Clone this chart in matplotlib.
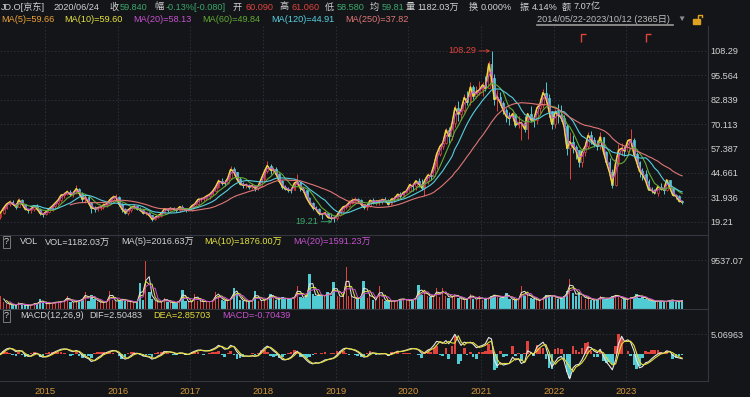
import numpy as np
import pandas as pd
import matplotlib
matplotlib.use('Agg')
import matplotlib.pyplot as plt
import matplotlib.dates as mdates
from matplotlib.path import Path
from matplotlib.lines import Line2D
from matplotlib.patches import Rectangle

plt.rcParams['font.family'] = ['Liberation Sans', 'Noto Sans CJK SC', 'DejaVu Sans']

# ---------------- data (semi-monthly samples) ----------------
first_open = 21.75
closes = [
    # 2014
    23.8, 26.5, 28.4, 29.5, 28.6, 27.0, 30.5, 28.5, 26.0, 25.2, 25.8, 27.5, 26.0, 23.5, 23.1,
    # 2015
    24.5, 25.9, 27.5, 29.0, 30.5, 33.0, 33.5, 34.9, 33.5, 34.0, 36.5, 34.0, 31.0, 32.0, 29.0, 26.5, 26.0, 26.5, 26.8, 28.0, 28.5, 30.5, 32.0, 32.3,
    # 2016
    28.5, 26.0, 24.0, 25.3, 26.5, 27.2, 26.0, 25.5, 23.8, 24.0, 22.5, 20.5, 21.5, 22.3, 23.5, 25.8, 25.5, 26.2, 25.8, 25.2, 27.0, 26.3, 25.2, 25.4,
    # 2017
    27.5, 28.4, 30.8, 31.0, 31.5, 32.5, 33.5, 35.0, 37.5, 40.5, 39.5, 39.2, 42.0, 46.5, 45.0, 41.5, 39.0, 38.2, 38.5, 37.5, 38.0, 36.8, 37.9, 41.4,
    # 2018
    45.5, 48.5, 46.0, 46.5, 44.0, 40.5, 37.5, 36.5, 35.8, 35.5, 39.5, 40.0, 36.5, 35.8, 31.5, 29.0, 26.5, 26.0, 23.5, 23.0, 23.8, 21.5, 21.0, 20.9,
    # 2019
    22.5, 24.9, 27.0, 27.4, 29.0, 30.2, 30.8, 30.3, 28.5, 26.7, 27.5, 30.3, 29.5, 29.9, 30.0, 30.6, 30.5, 28.2, 31.0, 31.1, 33.5, 32.6, 34.5, 35.2,
    # 2020
    38.5, 37.7, 40.5, 38.9, 37.0, 40.5, 43.5, 43.1, 48.5, 54.4, 58.5, 60.2, 67.0, 63.8, 70.5, 78.6, 75.5, 77.6, 84.0, 81.5, 89.5, 84.7, 87.0, 87.9,
    # 2021
    90.5, 88.7, 101.5, 94.1, 83.0, 84.3, 81.0, 77.3, 74.0, 73.1, 75.5, 69.8, 70.5, 70.9, 67.5, 75.5, 72.5, 72.2, 78.5, 80.0, 86.5, 84.0, 77.0, 70.1,
    # 2022
    76.5, 74.9, 73.5, 68.9, 57.5, 61.0, 58.0, 56.5, 50.5, 55.6, 58.5, 64.2, 62.0, 59.7, 58.5, 63.4, 55.5, 50.3, 45.0, 38.5, 50.0, 56.4, 57.5, 56.1,
    # 2023
    61.5, 62.0, 54.5, 50.2, 45.5, 43.9, 40.5, 36.0, 35.5, 34.2, 37.5, 36.5, 35.8, 41.0, 36.8, 33.1, 32.6, 30.0, 29.5,
]
highs = [
    24.5, 27.0, 29.0, 30.5, 30.5, 29.0, 31.5, 31.0, 28.5, 26.5, 26.5, 28.0, 28.5, 26.5, 24.0,
    25.0, 26.8, 28.0, 29.5, 31.5, 33.5, 34.5, 36.0, 35.5, 35.0, 38.4, 37.0, 34.5, 33.0, 32.5, 29.5, 27.5, 27.5, 28.0, 29.0, 30.0, 31.0, 33.0, 33.5,
    32.5, 29.0, 26.5, 25.5, 27.5, 28.5, 27.5, 27.0, 26.0, 24.5, 24.5, 22.5, 22.0, 23.0, 24.0, 26.5, 26.5, 27.0, 27.0, 26.5, 27.5, 28.0, 26.5, 26.5,
    28.0, 29.5, 31.5, 32.0, 32.0, 33.0, 34.0, 35.5, 38.0, 41.5, 42.0, 41.0, 42.5, 48.5, 47.5, 45.0, 42.5, 40.0, 39.5, 39.0, 39.5, 38.5, 38.5, 42.0,
    46.5, 50.7, 49.5, 48.0, 47.5, 44.5, 41.0, 38.5, 37.5, 37.0, 40.5, 44.0, 40.0, 37.5, 36.0, 32.0, 29.5, 27.5, 26.5, 24.0, 25.0, 24.0, 23.5, 21.5,
    23.5, 25.5, 27.5, 28.5, 30.5, 31.5, 32.0, 31.5, 31.0, 28.5, 28.0, 30.8, 31.5, 30.5, 31.0, 31.5, 32.0, 31.0, 31.5, 32.5, 34.0, 34.5, 35.0, 36.0,
    39.5, 39.0, 41.0, 42.0, 41.5, 41.0, 44.5, 45.0, 49.5, 55.0, 60.0, 62.0, 68.0, 68.5, 72.0, 80.0, 82.0, 80.0, 86.0, 87.5, 92.0, 90.5, 90.0, 92.5,
    92.0, 95.0, 103.0, 108.29, 96.0, 88.0, 87.0, 82.0, 78.5, 76.5, 77.5, 76.0, 74.5, 72.0, 74.5, 76.0, 79.5, 74.5, 80.0, 84.0, 88.5, 92.0, 86.0, 76.5,
    78.0, 80.5, 80.0, 75.0, 70.0, 66.0, 64.5, 59.0, 56.5, 56.5, 60.5, 66.0, 66.5, 63.5, 62.0, 66.0, 63.0, 56.0, 52.5, 46.5, 52.5, 59.5, 60.5, 58.5,
    62.5, 67.5, 63.0, 55.5, 51.0, 47.0, 46.0, 41.5, 37.5, 36.5, 38.5, 39.5, 37.5, 41.5, 41.0, 37.0, 33.5, 33.0, 30.5,
]
lows = [
    20.5, 23.0, 26.0, 27.5, 28.0, 26.0, 27.0, 28.0, 25.5, 24.0, 23.5, 25.0, 25.5, 22.5, 21.8,
    22.5, 23.5, 25.0, 26.5, 28.0, 29.5, 31.5, 33.0, 32.5, 32.0, 33.5, 33.0, 29.5, 29.0, 28.0, 24.0, 24.5, 25.0, 25.5, 26.0, 27.0, 28.0, 29.5, 31.0,
    27.5, 24.5, 23.0, 22.5, 24.5, 26.0, 25.5, 25.0, 23.0, 22.5, 22.0, 19.5, 20.0, 21.0, 21.5, 23.5, 24.5, 25.0, 25.0, 24.5, 24.5, 25.5, 24.5, 24.8,
    25.0, 27.0, 28.0, 29.5, 30.0, 30.5, 31.0, 33.0, 34.5, 37.0, 38.5, 38.0, 39.0, 42.0, 43.5, 40.5, 38.5, 37.0, 37.0, 36.5, 36.5, 35.0, 35.5, 37.5,
    40.5, 44.5, 44.0, 44.5, 43.5, 40.0, 36.5, 36.0, 34.5, 34.0, 35.5, 38.5, 35.0, 34.5, 30.5, 28.5, 25.5, 25.0, 22.5, 20.5, 22.5, 21.0, 20.0, 19.21,
    20.0, 22.0, 24.5, 26.0, 27.0, 28.5, 29.5, 29.5, 27.5, 26.0, 25.5, 27.0, 28.5, 28.0, 28.0, 28.5, 29.5, 28.0, 28.0, 29.5, 31.0, 31.5, 32.0, 34.0,
    34.5, 35.0, 36.0, 37.5, 35.5, 32.5, 39.0, 41.0, 42.5, 46.5, 53.5, 57.0, 60.0, 60.5, 62.0, 68.5, 72.0, 72.5, 76.5, 80.0, 80.0, 83.0, 83.5, 85.5,
    85.0, 87.5, 89.0, 91.0, 80.0, 77.0, 80.0, 75.5, 71.0, 69.5, 72.0, 68.5, 68.0, 62.0, 66.0, 62.5, 71.0, 68.5, 70.0, 76.0, 78.5, 83.5, 74.0, 67.5,
    68.0, 70.5, 72.0, 66.0, 54.0, 41.6, 55.0, 52.0, 47.5, 48.0, 53.5, 57.0, 59.5, 58.0, 56.5, 57.0, 53.5, 49.5, 44.5, 36.9, 38.0, 48.5, 54.0, 53.5,
    54.5, 58.5, 53.0, 47.5, 42.5, 41.0, 39.5, 35.5, 34.0, 33.5, 32.5, 35.5, 33.5, 35.0, 36.0, 32.5, 31.0, 29.5, 28.5,
]
volumes = [  # 万 shares
    2500, 1400, 1000, 900, 800, 700, 1300, 800, 700, 700, 800, 1200, 900, 2000, 1100,
    1000, 1100, 1200, 1400, 1300, 1500, 1600, 2600, 1300, 1400, 1500, 1700, 2000, 3300, 1500, 2800, 2000, 1400, 1300, 1300, 1600, 3600, 1700, 1400,
    1800, 2000, 1600, 1500, 1400, 1300, 1300, 5000, 1800, 9300, 3300, 2000, 1500, 1300, 1400, 2200, 1400, 1300, 1200, 1300, 1800, 3700, 1500, 1400,
    1400, 3000, 1600, 1500, 1400, 1500, 1400, 1600, 3400, 2400, 1800, 1600, 1700, 2200, 4000, 3000, 1800, 1600, 1500, 1500, 1700, 3500, 1600, 1700,
    1800, 2200, 3000, 2200, 1800, 2000, 2300, 1900, 2000, 2100, 2400, 4500, 2300, 2200, 2800, 6900, 3000, 2500, 2800, 2600, 2500, 3300, 2600, 5300,
    2600, 2400, 2500, 8200, 2600, 2300, 2000, 2000, 2600, 5500, 2200, 3000, 1800, 1700, 4500, 1900, 1600, 1500, 1600, 1500, 1800, 2000, 1900, 1700,
    1700, 1900, 2200, 4600, 2800, 3500, 2500, 2300, 2600, 4000, 2300, 4000, 2600, 2200, 2400, 3000, 2200, 1900, 1800, 2000, 3000, 2000, 1800, 2500,
    1800, 2000, 2200, 2600, 2800, 2400, 2200, 2300, 3200, 2000, 1800, 1700, 2000, 4400, 2500, 3000, 2200, 2000, 1700, 1600, 2400, 2700, 2500, 2700,
    2300, 2000, 2200, 2600, 3500, 5800, 3200, 2600, 3300, 2500, 2000, 2200, 1800, 1700, 1900, 2500, 1900, 2000, 2200, 2500, 2800, 2400, 2000, 1900,
    1900, 2400, 2200, 3000, 2200, 2500, 1900, 1700, 1600, 1500, 1500, 1600, 1400, 1500, 1800, 1700, 1400, 1500, 1700,
]
dif_values = [
    0.0, 0.8, 1.3, 1.5, 1.2, 0.6, 0.9, 0.7, -0.2, -0.6, -0.5, 0.1, 0.2, -0.5, -0.8,
    -0.6, -0.3, 0.2, 0.6, 0.9, 1.2, 1.3, 1.2, 0.8, 0.6, 0.9, 0.5, -0.4, -0.8, -1.2, -1.9, -1.6, -1.0, -0.5, 0.1, 0.4, 0.7, 0.9, 0.8,
    0.2, -0.8, -1.3, -1.0, -0.4, 0.1, 0.2, 0.0, -0.5, -0.6, -0.8, -1.3, -1.0, -0.5, -0.1, 0.6, 0.6, 0.5, 0.3, 0.0, 0.3, 0.2, -0.1, -0.1,
    0.4, 0.7, 1.0, 1.0, 0.8, 0.8, 0.9, 1.2, 1.6, 2.2, 1.8, 1.2, 1.4, 2.2, 1.8, 0.6, -0.3, -0.6, -0.5, -0.6, -0.4, -0.6, -0.3, 0.6,
    1.5, 2.0, 1.5, 0.8, 0.3, -0.6, -1.4, -1.5, -1.2, -0.8, 0.2, 0.7, -0.2, -0.7, -1.6, -2.2, -2.5, -2.2, -2.3, -2.0, -1.5, -1.4, -1.2, -1.0,
    -0.2, 0.6, 1.3, 1.5, 1.3, 1.2, 0.9, 0.5, -0.2, -0.8, -0.6, 0.2, 0.3, 0.1, 0.0, 0.1, 0.1, -0.4, 0.1, 0.3, 0.7, 0.6, 0.8, 1.0,
    1.3, 1.4, 1.3, 1.0, 0.2, 0.3, 1.0, 1.3, 2.2, 3.2, 3.0, 2.7, 3.4, 2.6, 3.8, 5.0, 3.4, 2.2, 3.0, 2.8, 3.0, 2.5, 1.6, 1.9,
    2.2, 2.6, 4.2, 3.8, -1.5, -3.0, -2.2, -2.8, -2.6, -2.4, -0.8, -1.5, -1.2, -2.4, -2.0, 0.8, 0.4, -0.2, 1.8, 2.3, 3.0, 1.8, -1.2, -3.3,
    -2.0, -1.0, -0.6, -1.8, -4.5, -6.3, -3.5, -2.8, -2.6, -1.5, 0.3, 1.8, 1.6, 0.8, 0.3, 1.2, -0.6, -2.0, -3.0, -4.0, -1.5, 2.5, 4.5, 3.2,
    3.6, 3.0, 0.8, -1.8, -3.5, -3.2, -2.2, -2.0, -1.2, -0.6, 0.0, 0.3, 0.2, 0.8, 0.6, -0.3, -0.8, -1.0, -1.2,
]
macd_hist = [
    0.3, 0.8, 0.6, 0.3, -0.3, -0.6, 0.4, -0.2, -0.8, -0.5, 0.2, 0.6, 0.2, -0.7, -0.4,
    0.3, 0.4, 0.6, 0.5, 0.4, 0.4, 0.2, -0.1, -0.4, -0.3, 0.4, -0.4, -1.0, -0.6, -0.5, -0.9, 0.2, 0.6, 0.6, 0.6, 0.4, 0.4, 0.3, -0.1,
    -0.6, -1.2, -0.8, 0.2, 0.6, 0.6, 0.2, -0.2, -0.6, -0.3, -0.3, -0.7, 0.2, 0.5, 0.5, 0.8, 0.2, -0.1, -0.2, -0.3, 0.3, -0.1, -0.3, 0.0,
    0.5, 0.4, 0.4, 0.1, -0.2, 0.0, 0.2, 0.4, 0.5, 0.7, -0.3, -0.7, 0.2, 0.8, -0.3, -1.2, -1.0, -0.4, 0.1, -0.1, 0.2, -0.2, 0.3, 0.9,
    0.9, 0.6, -0.4, -0.7, -0.6, -0.9, -0.8, -0.2, 0.3, 0.4, 1.0, 0.5, -0.8, -0.5, -0.9, -0.7, -0.3, 0.3, -0.1, 0.3, 0.5, 0.1, 0.2, 0.2,
    0.8, 0.8, 0.7, 0.2, -0.2, -0.1, -0.3, -0.4, -0.7, -0.6, 0.2, 0.8, 0.1, -0.2, -0.1, 0.1, 0.0, -0.5, 0.5, 0.2, 0.4, -0.1, 0.2, 0.2,
    0.3, 0.1, -0.1, -0.3, -1.0, 0.2, 1.0, 0.5, 1.5, 2.0, -0.3, -0.4, 1.5, -1.2, 2.0, 4.5, -2.5, -1.8, 1.5, -0.3, 0.4, -0.8, -1.3, 0.5,
    0.6, 0.8, 2.5, 1.0, -4.0, -3.5, 0.8, -0.8, -0.4, 0.0, 2.0, -0.6, 0.2, -1.8, 0.2, 3.2, 0.4, -0.6, 2.2, 1.4, 1.6, -1.2, -3.5, -3.8,
    1.2, 1.6, 1.2, -1.2, -4.5, -6.0, 2.0, 1.0, 0.5, 1.5, 2.8, 3.0, 0.8, -0.8, -0.8, 1.0, -1.8, -2.2, -2.0, -2.5, 2.0, 5.0, 4.0, 0.0,
    0.8, -0.5, -2.8, -3.8, -3.0, -1.0, 0.8, 0.5, 1.0, 1.0, 1.0, 0.6, 0.0, 0.8, 0.0, -1.2, -1.0, -0.6, -0.3,
]
dates = pd.date_range('2014-05-15', '2023-10-01', freq='SMS') + pd.Timedelta(days=7)

price_ticks = [19.21, 31.936, 44.661, 57.387, 70.113, 82.839, 95.564, 108.29]
vol_tick = 9537.07
macd_tick = 5.06963
years = list(range(2015, 2024))
event_dates = ['2022-05-20', '2023-04-11']
ma_periods = [5, 10, 20, 60, 120, 250]
days_per_sample = 10.5

# ---------------- styling ----------------
BG = '#131519'
GRID = '#2d3037'
BORDER = '#34373e'
TXT = '#d2d2d2'
RED = '#e0433b'
CYAN = '#50cbd3'
GREEN = '#3da76a'
MA_COLORS = ['#eea236', '#e6e340', '#c752cf', '#62ab33', '#57cfe0', '#df7676']
YEAR_C = '#d4963a'
FS = 6.6

W, H = 750, 397
fig = plt.figure(figsize=(7.5, 3.97), dpi=100, facecolor=BG)


def rect(x0, y0, x1, y1):
    return [x0 / W, 1 - y1 / H, (x1 - x0) / W, (y1 - y0) / H]


ax_p = fig.add_axes(rect(0, 26, 708, 235))
ax_v = fig.add_axes(rect(0, 235, 708, 309), sharex=ax_p)
ax_m = fig.add_axes(rect(0, 309, 708, 381), sharex=ax_p)

x = mdates.date2num(dates)
c = np.array(closes)
o = np.array([first_open] + closes[:-1])
hi = np.maximum(np.array(highs), np.maximum(o, c))
lo = np.minimum(np.array(lows), np.minimum(o, c))
up = c >= o
cols = np.where(up, RED, CYAN)
faces = np.where(up, BG, CYAN)

for ax in (ax_p, ax_v, ax_m):
    ax.set_facecolor(BG)
    ax.yaxis.tick_right()
    ax.tick_params(axis='both', length=0, labelsize=FS, labelcolor=TXT, pad=2)
    for s in ax.spines.values():
        s.set_color(BORDER)
        s.set_linewidth(0.8)
    ax.spines['left'].set_visible(False)
    ax.set_xticks([mdates.date2num(pd.Timestamp(f'{y}-01-01')) for y in years])
    ax.grid(True, color=GRID, linestyle=(0, (1.5, 2)), linewidth=0.7)
    ax.set_axisbelow(True)
ax_p.spines['top'].set_visible(False)
ax_p.spines['bottom'].set_visible(False)
ax_p.tick_params(labelbottom=False)
ax_v.tick_params(labelbottom=False)
ax_m.set_xticklabels([str(y) for y in years])
ax_m.tick_params(axis='x', labelcolor=YEAR_C, labelsize=6.8, pad=4)

ax_p.set_xlim(mdates.date2num(pd.Timestamp('2014-05-20')), mdates.date2num(pd.Timestamp('2024-02-15')))

# ---- price panel ----
ax_p.set_ylim(12.27, 121.3)
ax_p.set_yticks(price_ticks, labels=[f'{v:g}' for v in price_ticks])
ax_p.vlines(x, lo, hi, colors=cols, linewidth=0.7, zorder=2)
ax_p.bar(x, np.maximum(np.abs(c - o), 0.25), bottom=np.minimum(o, c), width=9,
         color=faces, edgecolor=cols, linewidth=0.5, zorder=2)
cs = pd.Series(c)
for n, col in zip(ma_periods, MA_COLORS):
    w = max(1, round(n / days_per_sample))
    ma = cs.rolling(w).mean()
    lw = 1.1 if n == 5 else (0.75 if n in (10, 20) else 0.8)
    ax_p.plot(x, ma, color=col, linewidth=lw, zorder=3)

imax = int(np.argmax(hi))
ax_p.annotate(f'{hi[imax]:.2f}', xy=(x[imax], hi[imax]), xytext=(-11, 0),
              textcoords='offset points', ha='right', va='center', color=RED, fontsize=FS,
              arrowprops=dict(arrowstyle='->', color=RED, lw=0.6, shrinkA=0, shrinkB=1,
                              mutation_scale=5))
imin = int(np.argmin(lo))
ax_p.annotate(f'{lo[imin]:.2f}', xy=(x[imin], lo[imin]), xytext=(-11, 0),
              textcoords='offset points', ha='right', va='center', color=GREEN, fontsize=FS,
              arrowprops=dict(arrowstyle='->', color=GREEN, lw=0.6, shrinkA=0, shrinkB=1,
                              mutation_scale=5))

corner = Path([(0, -1), (0, 0), (0.7, 0)], [Path.MOVETO, Path.LINETO, Path.LINETO])
for d in event_dates:
    ax_p.plot([mdates.date2num(pd.Timestamp(d))], [0.962], marker=corner, markersize=11,
              markerfacecolor='none', markeredgecolor=RED, markeredgewidth=1.0,
              transform=ax_p.get_xaxis_transform(), clip_on=False)

# ---- volume panel ----
vol = np.array(volumes, dtype=float)
ax_v.set_ylim(0, vol_tick * 74 / 49)
ax_v.set_yticks([vol_tick], labels=[f'{vol_tick:.2f}'])
ax_v.bar(x[~up], vol[~up], width=13, color=CYAN, linewidth=0, zorder=2)
ax_v.bar(x[up], vol[up], width=5, color=RED, linewidth=0, zorder=2)
vs = pd.Series(vol)
for w, col in zip([2, 3, 4], ['#e8e8e8', '#e6e340', '#c752cf']):
    ax_v.plot(x, vs.rolling(w).mean(), color=col, linewidth=0.7, zorder=3)

# ---- MACD panel ----
dif = np.array(dif_values)
hist = np.array(macd_hist)
dea = dif - hist / 2
ax_m.set_ylim(-6.84, 11.41)
ax_m.set_yticks([macd_tick], labels=[f'{macd_tick:.5f}'])
ax_m.bar(x, hist, width=13, color=np.where(hist >= 0, RED, CYAN), linewidth=0, zorder=2)
ax_m.plot(x, dif, color='#e6e6e6', linewidth=0.8, zorder=3)
ax_m.plot(x, dea, color='#e5dc3a', linewidth=0.8, zorder=3)

# ---------------- header texts ----------------
def ftext(px, py, s, color=TXT, size=FS, **kw):
    fig.text(px / W, 1 - py / H, s, color=color, fontsize=size, va='center', ha='left', **kw)

row1 = [(1, 'JD.O[京东]', TXT), (53, '2020/06/24', TXT), (109, '收', TXT), (120, '59.840', GREEN),
        (154, '幅', TXT), (166, '-0.13%[-0.080]', GREEN), (233, '开', TXT), (245, '60.090', RED),
        (279, '高', TXT), (291, '61.060', RED), (325, '低', TXT), (337, '58.580', GREEN),
        (370, '均', TXT), (382, '59.81', GREEN), (406, '量', TXT), (417, '1182.03万', TXT),
        (469, '换', TXT), (481, '0.000%', TXT), (520, '振', TXT), (532, '4.14%', TXT),
        (562, '额', TXT), (574, '7.07亿', TXT)]
for px, s, col in row1:
    ftext(px, 7, s, col)

row2 = [(1, 'MA(5)=59.66'), (64, 'MA(10)=59.60'), (133, 'MA(20)=58.13'), (202, 'MA(60)=49.84'),
        (271, 'MA(120)=44.91'), (345, 'MA(250)=37.82')]
for (px, s), col in zip(row2, MA_COLORS):
    ftext(px, 19, s, col)

ftext(537, 19, '2014/05/22-2023/10/12 (2365日)', '#bdbdbd')
fig.add_artist(Line2D([537 / W, 673 / W], [1 - 24.5 / H, 1 - 24.5 / H], color='#9a9a9a',
                      linewidth=1.2, transform=fig.transFigure))
ftext(677, 19, '▼', '#8c8c8c', size=6)
fig.add_artist(Rectangle((693 / W, 1 - 24 / H), 7 / W, 5 / H, transform=fig.transFigure,
                         color='#e0a020'))
fig.add_artist(Line2D([698 / W, 698 / W, 702 / W, 702 / W],
                      [1 - 19 / H, 1 - 15 / H, 1 - 15 / H, 1 - 17 / H], color='#e0a020',
                      linewidth=1.0, transform=fig.transFigure))

qbox = dict(boxstyle='square,pad=0.15', fc='none', ec='#8a8a8a', lw=0.6)
ftext(4, 242, '?', TXT, bbox=qbox)
ftext(20, 242, 'VOL', TXT)
ftext(45, 242, 'VOL=1182.03万', TXT)
ftext(121, 242, 'MA(5)=2016.63万', TXT)
ftext(204, 242, 'MA(10)=1876.00万', '#e6e340')
ftext(293, 242, 'MA(20)=1591.23万', '#c752cf')

ftext(4, 316, '?', TXT, bbox=qbox)
ftext(20, 316, 'MACD(12,26,9)', TXT)
ftext(89, 316, 'DIF=2.50483', TXT)
ftext(153, 316, 'DEA=2.85703', '#e5dc3a')
ftext(222, 316, 'MACD=-0.70439', '#c752cf')

fig.savefig('out.png', dpi=100, facecolor=BG)
